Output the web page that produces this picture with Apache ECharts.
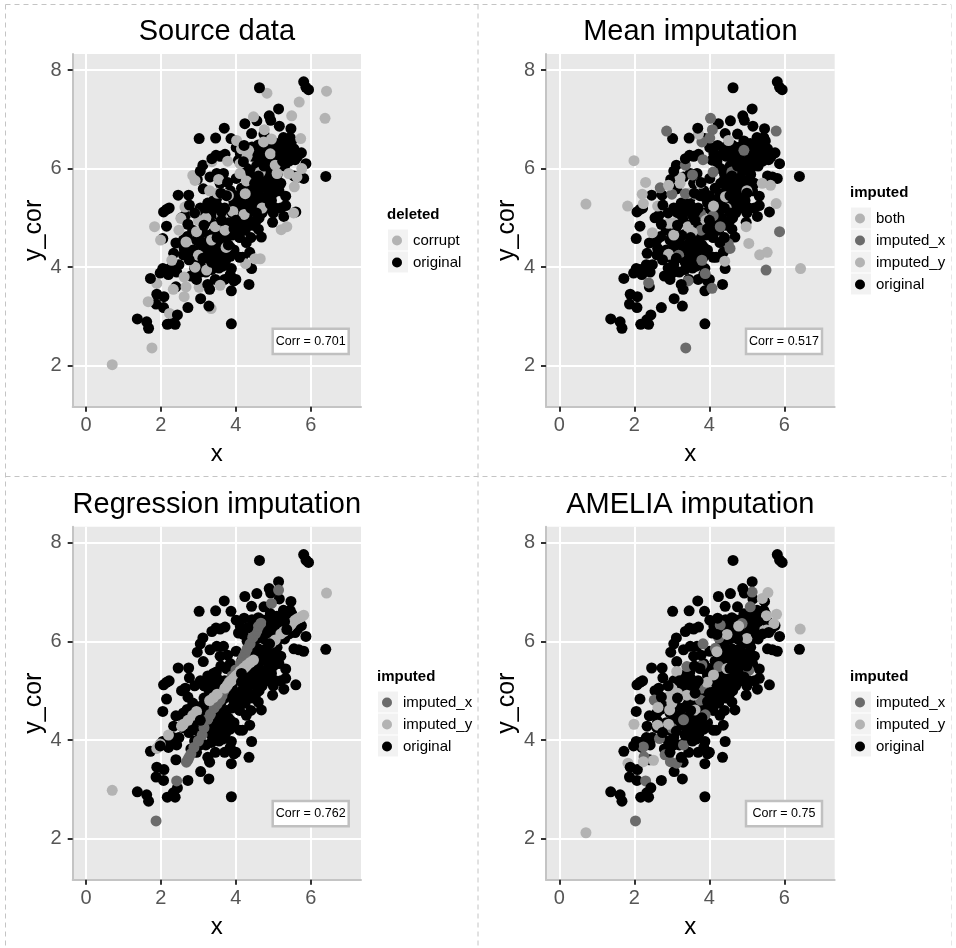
<!DOCTYPE html>
<html>
<head>
<meta charset="utf-8">
<style>html,body{margin:0;padding:0;background:#fff}#c{width:956px;height:948px}</style>
<script src="https://cdn.jsdelivr.net/npm/echarts@6/dist/echarts.min.js"></script>
</head>
<body>
<div id="c"></div>
<script>
const xTicks = [0, 2, 4, 6];
const yTicks = [2, 4, 6, 8];
const panelTitles = ['Source data', 'Mean imputation', 'Regression imputation', 'AMELIA imputation'];
const corrLabels = ['Corr = 0.701', 'Corr = 0.517', 'Corr = 0.762', 'Corr = 0.75'];

const original = [
[4.63,7.64],[5.81,7.76],[5.87,7.65],[5.94,7.60],[5.14,7.21],[4.89,7.07],[4.93,6.98],[4.56,6.97],[4.24,6.91],[5.16,6.86],
[3.69,6.82],[5.47,6.81],[4.42,6.71],[4.75,6.70],[3.02,6.61],[3.46,6.62],[3.87,6.61],[5.27,6.63],[5.45,6.63],[5.36,6.54],
[5.23,6.47],[5.49,6.56],[4.92,6.56],[5.09,6.51],[4.01,6.43],[4.22,6.47],[4.43,6.44],[4.69,6.44],[4.56,6.34],[5.75,6.32],
[5.58,6.18],[5.87,6.10],[5.08,6.24],[5.36,6.24],[4.07,6.17],[4.20,6.14],[4.60,6.20],[3.71,6.29],[3.58,6.25],[3.47,6.27],
[3.36,6.20],[4.12,6.30],[4.45,6.25],[4.80,6.30],[4.95,6.35],[5.20,6.30],[5.45,6.35],[5.65,6.25],[5.55,6.40],[3.12,6.07],
[3.05,5.95],[3.31,5.83],[3.49,5.90],[3.67,5.90],[3.58,5.70],[3.78,5.72],[4.01,5.80],[2.97,5.78],[3.13,5.59],[5.81,5.80],
[6.40,5.84],[5.55,5.85],[5.68,5.83],[4.30,6.00],[4.55,6.05],[4.75,6.05],[4.90,5.95],[5.10,6.00],[5.30,6.05],[4.40,5.90],
[4.60,5.85],[4.80,5.85],[5.00,5.75],[5.20,5.70],[5.15,5.55],[4.50,5.70],[4.65,5.60],[4.85,5.60],[4.30,5.70],[4.45,5.55],
[5.00,5.50],[5.33,5.44],[4.15,5.60],[2.46,5.46],[2.74,5.46],[2.76,5.26],[2.22,5.20],[2.07,5.12],[2.15,5.17],[3.40,5.35],
[3.20,5.20],[3.05,5.20],[3.30,5.10],[3.50,5.25],[3.55,5.05],[3.70,5.20],[3.90,5.10],[4.00,5.45],[3.95,5.30],[4.15,5.35],
[4.40,5.20],[4.50,5.35],[4.65,5.25],[4.75,5.35],[4.85,5.45],[4.55,5.10],[4.70,5.10],[4.85,5.20],[5.05,5.20],[5.20,5.20],
[5.33,5.25],[5.60,5.12],[5.28,5.03],[4.98,4.91],[5.00,5.10],[2.90,5.10],[2.65,5.05],[2.55,5.00],[2.15,4.83],[2.05,4.58],
[2.72,4.87],[2.40,4.49],[2.85,4.75],[2.70,4.62],[2.60,4.55],[3.15,4.85],[3.30,4.95],[3.45,4.85],[3.60,4.75],[3.80,4.90],
[4.00,4.95],[4.15,5.00],[4.30,5.05],[4.05,4.80],[4.25,4.75],[4.40,4.60],[4.45,4.85],[4.60,4.77],[4.68,4.61],[3.30,4.65],
[3.50,4.60],[3.75,4.60],[3.90,4.65],[4.10,4.60],[3.20,4.50],[4.28,4.50],[2.34,4.28],[2.60,4.25],[2.85,4.35],[2.95,4.20],
[2.75,4.15],[3.05,4.05],[3.40,4.45],[3.50,4.35],[3.65,4.40],[3.80,4.45],[3.40,4.20],[3.55,4.10],[3.70,4.30],[3.95,4.35],
[4.10,4.20],[4.18,4.20],[3.85,4.22],[4.37,4.30],[3.20,4.30],[1.98,3.88],[2.05,3.97],[2.25,3.97],[2.38,3.97],[2.20,3.85],
[1.72,3.77],[2.42,3.90],[4.42,3.97],[3.88,3.97],[3.85,3.85],[3.55,3.98],[3.35,3.95],[3.20,3.90],[3.05,3.90],[2.80,3.82],
[2.95,3.75],[3.45,3.75],[3.70,3.75],[3.95,3.72],[4.00,3.75],[3.25,3.65],[3.30,3.55],[3.88,3.52],[4.35,3.65],[2.40,3.60],
[1.89,3.45],[2.08,3.40],[1.87,3.25],[2.07,3.18],[2.72,3.18],[3.28,3.21],[3.06,3.36],[1.37,2.95],[1.62,2.89],[1.67,2.76],
[2.44,3.03],[2.33,2.93],[2.17,2.84],[2.38,2.84],[3.88,2.85],[3.60,5.50],[3.42,5.15],[3.10,4.70],[2.95,4.55],[3.05,4.40],
[3.62,4.95],[3.85,4.40],[4.22,4.90],[4.55,4.95],[4.35,5.40],[4.60,5.50],[4.95,5.35],[5.15,6.15],[4.70,6.15],[4.85,6.45],
[5.30,6.40],[2.62,4.38],[2.48,4.05],[2.90,3.98],[3.65,4.02],[3.75,5.45],[3.85,5.55],[4.25,5.25],[3.25,5.30],[3.60,4.50],
[3.35,4.10],[3.48,4.28],[3.60,4.22],[3.72,4.12],[3.30,4.35],[3.12,4.18],[2.70,4.30],[3.00,4.60],[3.42,4.72],[3.70,4.85],
[3.95,4.78],[4.12,4.72],[4.35,4.95],[4.62,5.00],[4.78,5.22],[4.92,5.28],[4.62,5.40],[4.88,5.75],[5.05,5.62],[4.72,5.72],
[4.55,5.45],[4.40,5.78],[4.28,5.48],[4.15,5.18],[3.88,5.42],[3.62,5.12],[3.28,5.02],[3.15,5.10],[3.48,5.38],[5.15,6.42],
[5.25,6.15],[4.98,6.12],[4.82,6.18],[4.60,6.48],[4.32,6.28],[5.42,6.15],[5.10,5.88],[4.95,5.65],[2.32,4.05],[2.12,3.95]
];

const corrupt = [
[0.70,2.02],[1.76,2.36],[6.42,7.57],[6.38,7.02],[5.69,7.35],[4.83,7.53],[5.49,7.07],[4.47,7.05],[5.73,6.61],[3.34,3.16],
[2.62,3.40],[1.66,3.30],[1.89,3.67],[1.83,4.82],[1.99,4.55],[2.23,3.06],[2.33,3.55],[2.67,3.60],[2.62,3.80],[3.02,3.59],
[3.58,3.63],[4.65,4.17],[4.51,4.17],[4.26,4.07],[3.74,4.40],[3.00,4.24],[2.91,4.00],[2.67,4.51],[2.48,4.75],[2.53,4.99],
[2.91,5.09],[3.71,4.75],[3.45,4.82],[3.62,5.05],[3.92,5.13],[4.22,5.07],[5.21,4.76],[5.36,4.82],[5.54,5.10],[5.56,5.63],
[5.63,5.83],[5.41,5.90],[5.76,6.00],[5.05,6.07],[4.65,5.93],[4.11,5.90],[2.85,5.86],[2.91,5.76],[3.54,5.78],[3.67,5.49],
[4.25,5.49],[4.34,6.37],[3.78,6.15],[4.02,6.57],[4.76,6.79],[4.74,6.54],[4.92,6.30],[3.36,6.14],[4.11,6.10],[2.64,5.22],
[3.22,3.94],[2.29,4.14],[3.30,5.55],[3.50,5.50],[3.80,5.45],[3.20,5.00],[3.00,4.95],[3.35,4.55],[4.28,5.75],[4.30,6.25],
[4.15,6.40],[4.70,5.20],[5.10,5.90],[4.95,6.60],[2.95,4.72]
];

const meanBoth = [[3.45,5.50],[3.05,4.90],[4.45,5.20],[5.00,5.55],[3.85,5.00]];
const meanX = [
[4.03,7.02],[2.86,6.76],[5.78,6.76],[4.08,6.79],[3.80,6.54],[4.01,6.62],[4.92,6.37],[3.36,6.07],[3.83,6.18],[3.55,5.87],
[4.60,5.93],[2.69,5.61],[3.00,5.48],[3.36,5.49],[3.76,5.09],[4.10,5.04],[3.78,4.75],[5.87,4.72],[4.50,4.48],[3.18,4.24],
[3.80,4.14],[3.89,3.87],[5.51,3.94],[2.38,3.68],[3.43,3.72],[4.07,3.57],[3.37,2.36],[4.10,5.93],[4.29,4.82],[4.55,4.38]
];
const meanY = [
[0.71,5.28],[1.82,5.24],[1.99,6.16],[2.30,5.72],[2.21,5.48],[2.24,5.29],[2.62,5.24],[2.48,4.70],[2.91,5.66],[3.22,5.82],
[2.91,4.89],[3.05,4.65],[2.91,4.26],[3.43,4.82],[3.54,4.71],[3.91,4.95],[4.11,5.24],[3.62,5.48],[3.76,5.70],[4.43,5.43],
[4.98,4.82],[5.05,4.48],[5.34,4.25],[5.54,4.30],[6.43,3.97],[5.78,5.29],[5.63,5.66],[5.41,5.70],[4.41,4.12],[3.71,6.70],
[4.51,6.57],[3.22,5.70]
];

const regressionX = [
[2.68,3.55],[2.72,3.60],[2.75,3.65],[2.80,3.72],[2.88,3.85],[3.00,3.98],[3.10,4.10],[3.15,4.25],[3.25,4.42],[3.32,4.52],
[3.42,4.65],[3.50,4.73],[3.58,4.81],[3.63,4.90],[3.68,5.00],[3.75,5.08],[3.82,5.18],[3.90,5.30],[4.00,5.42],[4.12,5.56],
[4.20,5.68],[4.25,5.76],[4.30,5.85],[4.38,5.95],[4.45,6.08],[4.52,6.15],[4.56,6.22],[4.60,6.30],[4.67,6.37],[4.95,6.77],
[5.14,7.04],[1.87,2.36],[2.42,3.17]
];
const regressionY = [
[1.89,3.83],[1.95,3.88],[1.98,3.92],[2.20,4.10],[2.55,4.28],[2.60,4.32],[2.72,4.40],[2.85,4.50],[2.95,4.58],[3.30,4.80],
[3.40,4.86],[3.50,4.93],[3.71,5.05],[3.78,5.12],[3.84,5.18],[3.88,5.20],[3.94,5.25],[4.00,5.30],[4.05,5.33],[4.12,5.40],
[4.20,5.45],[4.25,5.48],[4.30,5.52],[4.38,5.57],[4.47,5.62],[4.95,5.97],[5.05,6.03],[5.20,6.15],[5.28,6.20],[5.36,6.26],
[5.42,6.30],[5.47,6.34],[5.50,6.37],[5.58,6.43],[5.64,6.46],[5.70,6.48],[5.75,6.50],[5.81,6.53],[0.70,2.98],[6.42,6.98]
];

const ameliaX = [
[2.03,2.36],[2.30,3.17],[2.24,3.86],[2.26,3.66],[2.53,4.81],[2.67,4.03],[2.82,3.70],[2.96,3.56],[3.13,3.53],[3.31,3.90],
[3.31,4.41],[3.00,4.24],[3.80,5.05],[3.76,4.81],[3.89,4.51],[3.40,5.49],[3.80,5.52],[3.83,5.95],[4.25,6.07],[4.25,5.49],
[4.16,5.86],[5.05,5.41],[4.87,6.36],[5.14,7.00],[5.09,6.70],[4.29,6.33]
];
const ameliaY = [
[0.71,2.12],[1.99,4.32],[1.83,3.53],[2.51,3.59],[2.24,3.56],[2.62,4.30],[2.63,4.66],[2.91,4.32],[2.94,4.61],[2.91,4.88],
[3.40,4.91],[3.58,4.91],[3.62,4.61],[4.11,5.32],[3.94,5.17],[4.20,5.79],[4.47,6.14],[4.78,6.31],[5.00,6.06],[5.36,6.23],
[5.52,6.23],[5.52,6.52],[5.72,6.36],[5.79,6.55],[5.41,6.87],[5.56,6.99],[6.42,6.25],[3.13,5.39],[4.47,5.45],[3.00,4.75],
[3.15,4.95],[3.00,5.05]
];

const greyLight = '#b3b3b3', greyDark = '#6b6b6b', ink = '#000000';
const panels = [
  {g:[72.7,54,288.3,352.7],  box:[272.7,328.7], leg:[387,215], front:5, title:'deleted', names:['corrupt','original'], layers:[['corrupt',corrupt,greyLight]]},
  {g:[546,54,288.7,352.7],   box:[746,328.7],   leg:[850,193], front:5, title:'imputed', names:['both','imputed_x','imputed_y','original'], layers:[['both',meanBoth,greyLight],['imputed_x',meanX,greyDark],['imputed_y',meanY,greyLight]]},
  {g:[72.7,526.7,288.3,353], box:[272.7,801],   leg:[377,677], front:11, title:'imputed', names:['imputed_x','imputed_y','original'], layers:[['imputed_x',regressionX,greyDark],['imputed_y',regressionY,greyLight]]},
  {g:[546,526.7,288.7,353],  box:[746,801],     leg:[850,677], front:5, title:'imputed', names:['imputed_x','imputed_y','original'], layers:[['imputed_x',ameliaX,greyDark],['imputed_y',ameliaY,greyLight]]}
];

const font = '"Liberation Sans", Arial, sans-serif';
const grids=[], xAxes=[], yAxes=[], series=[], titles=[], legends=[], graphics=[];

function dashed(x1,y1,x2,y2,stroke){
  graphics.push({type:'line',silent:true,z:1,shape:{x1,y1,x2,y2},style:{stroke:stroke||'#c4c4c4',lineWidth:1,lineDash:[5,4]}});
}
dashed(5.5,4.5,951,4.5); dashed(5.5,476.5,951,476.5);
dashed(5.5,4.5,5.5,948); dashed(478,4.5,478,948); dashed(951.5,4.5,951.5,948,'#e6e6e6');

panels.forEach((p,i)=>{
  const [l,t,w,h]=p.g;
  grids.push({left:l,top:t,width:w,height:h,show:true,backgroundColor:'#e8e8e8',borderWidth:0});
  const tick={show:true,length:5,lineStyle:{color:'#333',width:2}};
  xAxes.push({type:'value',gridIndex:i,min:-0.355,max:7.34,name:'x',nameLocation:'middle',nameGap:36,
    nameTextStyle:{fontFamily:font,fontSize:24,color:'#000'},
    axisLine:{show:true,onZero:false,lineStyle:{color:'#c4c4c4',width:2}},
    axisTick:Object.assign({customValues:xTicks},tick),
    axisLabel:{customValues:xTicks,fontFamily:font,fontSize:20,color:'#555',margin:9},
    splitLine:{show:true,lineStyle:{color:'#fff',width:2}},minorSplitLine:{show:false}});
  yAxes.push({type:'value',gridIndex:i,min:1.168,max:8.325,name:'y_cor',nameLocation:'middle',nameGap:23,
    nameTextStyle:{fontFamily:font,fontSize:25,color:'#000'},
    axisLine:{show:true,onZero:false,lineStyle:{color:'#c4c4c4',width:2}},
    axisTick:Object.assign({customValues:yTicks},tick),
    axisLabel:{customValues:yTicks,fontFamily:font,fontSize:20,color:'#555',margin:11},
    splitLine:{show:true,lineStyle:{color:'#fff',width:2}},minorSplitLine:{show:false}});
  const base={type:'scatter',xAxisIndex:i,yAxisIndex:i,symbol:'circle',symbolSize:11,silent:true,animation:false,large:false};
  series.push(Object.assign({},base,{name:'original',data:original.filter((_,k)=>k%p.front!==0),itemStyle:{color:ink,opacity:1}}));
  p.layers.forEach(([name,data,color])=>series.push(Object.assign({},base,{name,data,itemStyle:{color,opacity:1}})));
  series.push(Object.assign({},base,{name:'original',data:original.filter((_,k)=>k%p.front===0),itemStyle:{color:ink,opacity:1}}));

  titles.push({text:panelTitles[i],left:l+w/2,top:t-36.5,textAlign:'center',padding:0,
    textStyle:{fontFamily:font,fontSize:29,fontWeight:'normal',color:'#000'}});

  graphics.push({type:'rect',z:20,silent:true,shape:{x:p.box[0],y:p.box[1],width:76,height:25.3},style:{fill:'#fff',stroke:'#c0c0c0',lineWidth:2.5}});
  graphics.push({type:'text',z:21,silent:true,x:p.box[0]+38,y:p.box[1]+12.7,style:{text:corrLabels[i],fontFamily:font,fontSize:12.5,fill:'#000',align:'center',verticalAlign:'middle'}});

  const [lx,ly]=p.leg;
  graphics.push({type:'text',z:5,silent:true,x:lx,y:ly,style:{text:p.title,fontFamily:font,fontSize:15,fontWeight:'bold',fill:'#000',align:'left',verticalAlign:'middle'}});
  p.names.forEach((n,k)=>graphics.push({type:'rect',z:1,silent:true,shape:{x:lx+1,y:ly+25+22*k-10.5,width:20,height:21},style:{fill:'#f2f2f2'}}));
  legends.push({show:true,orient:'vertical',left:lx+5,top:ly+25-7,data:p.names,selectedMode:false,icon:'circle',
    itemWidth:22,itemHeight:10,itemGap:7,padding:0,textStyle:{fontFamily:font,fontSize:15,color:'#000',height:14,lineHeight:14}});
});

const chart=echarts.init(document.getElementById('c'),null,{renderer:'canvas'});
chart.setOption({animation:false,backgroundColor:'#fff',title:titles,legend:legends,grid:grids,xAxis:xAxes,yAxis:yAxes,series,graphic:graphics,tooltip:{show:false}});
</script>
</body>
</html>
